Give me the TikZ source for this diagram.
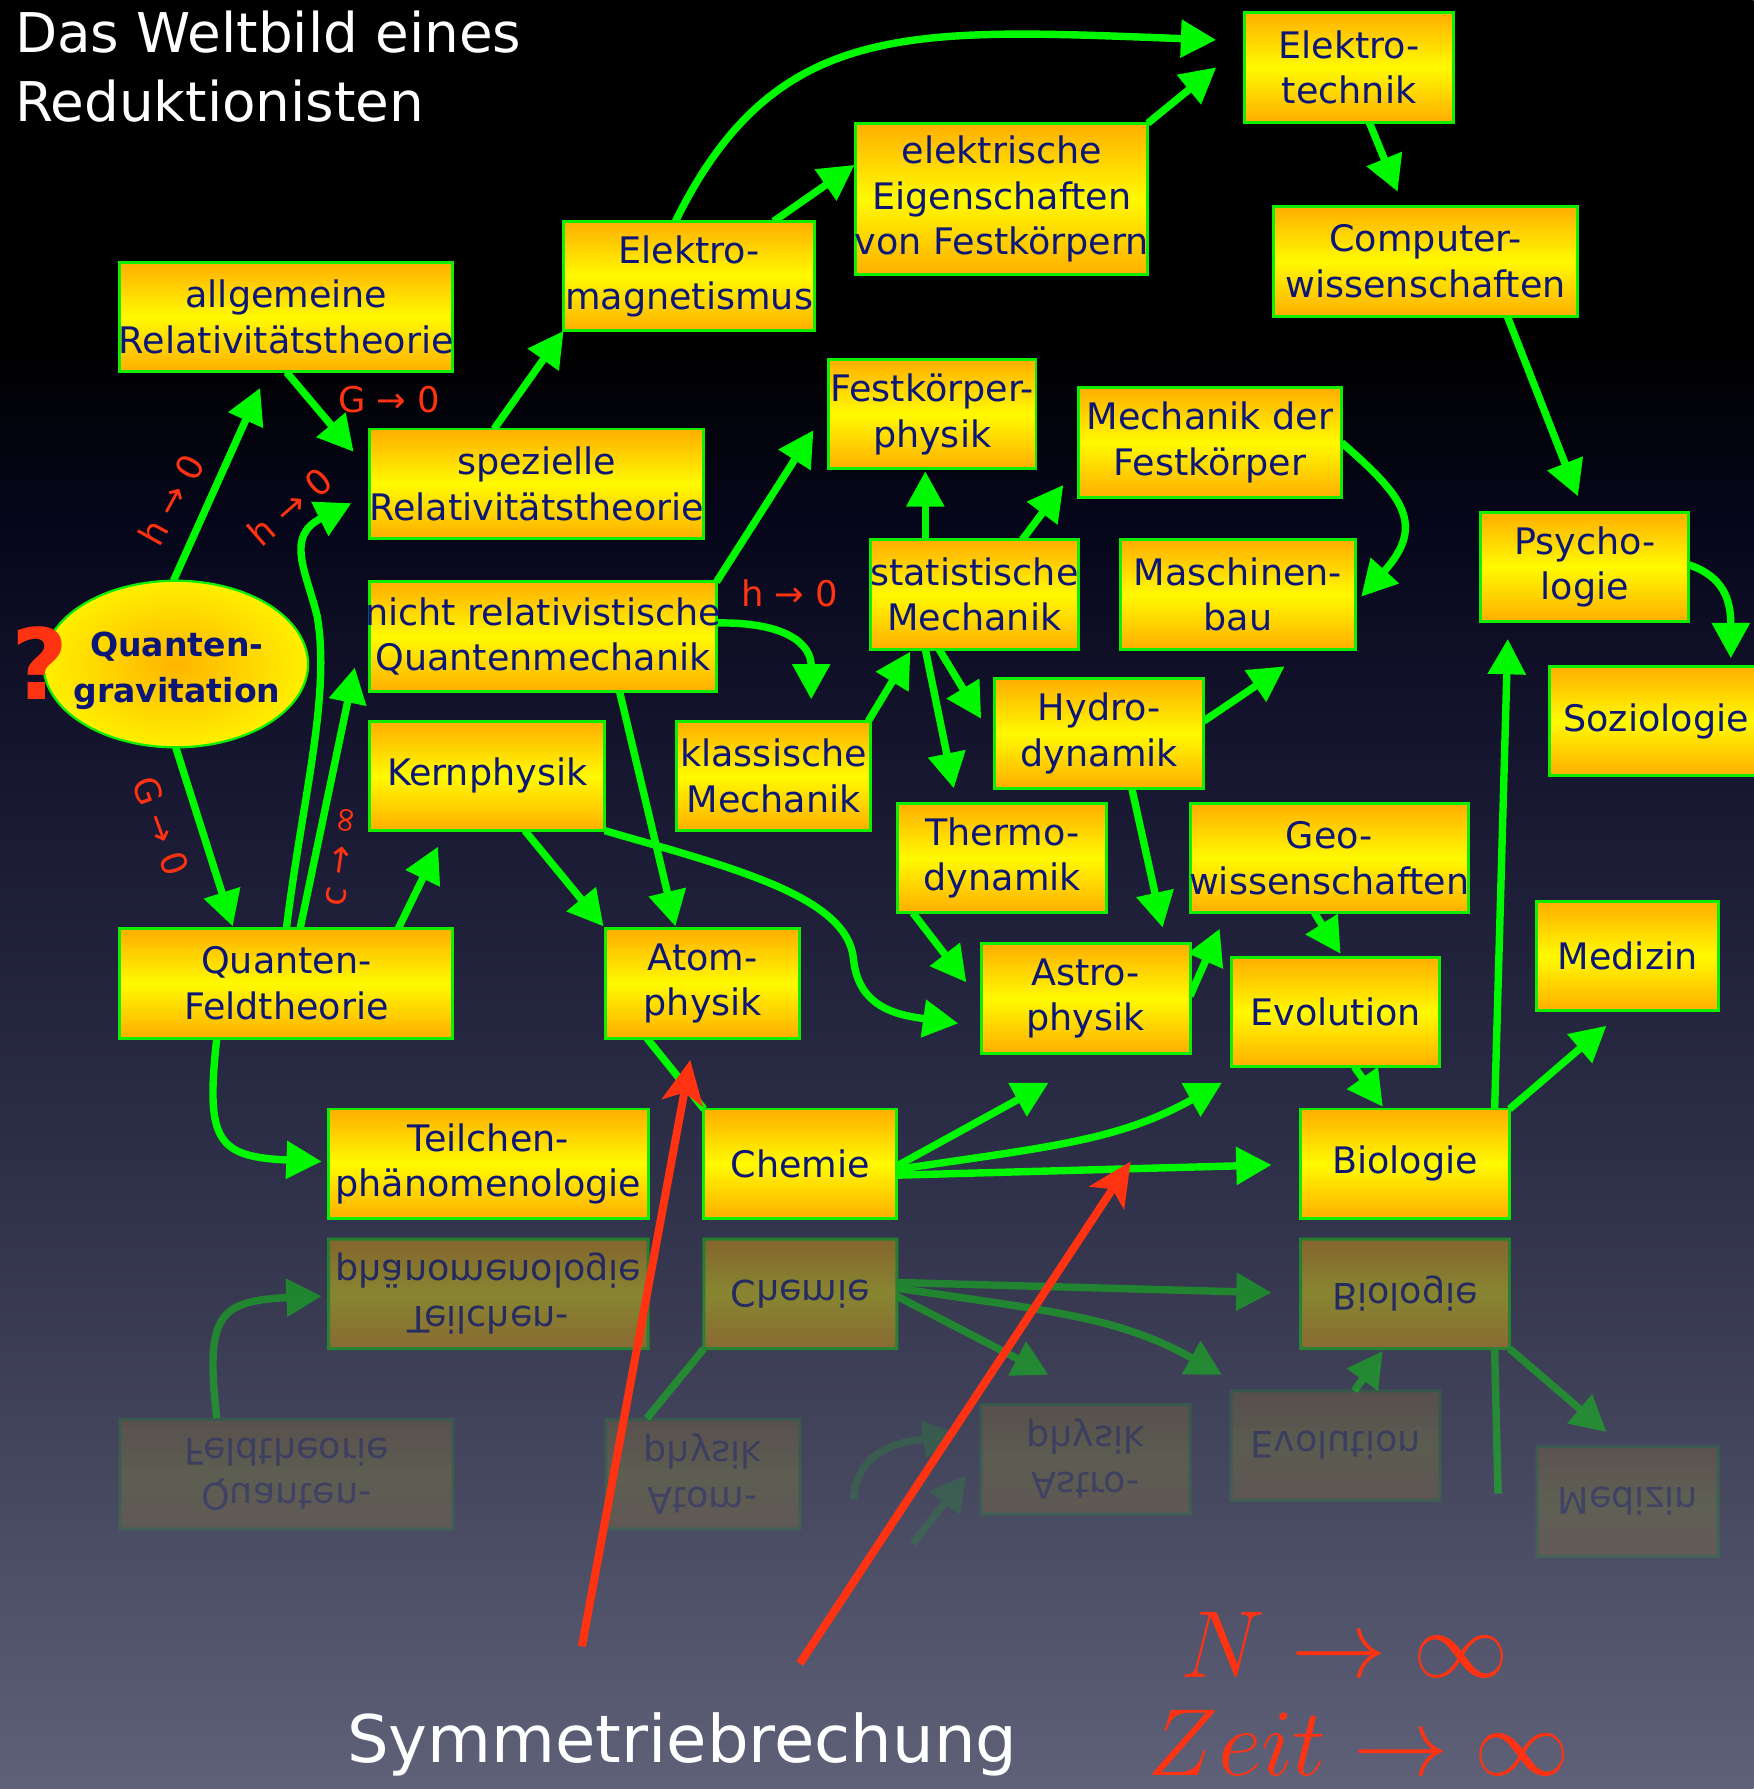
\documentclass[tikz,border=0pt]{standalone}
\usepackage{fontspec}
\setmainfont{DejaVu Sans}
\usetikzlibrary{arrows.meta,shapes.geometric}
\definecolor{gr}{HTML}{00F800}
\definecolor{grb}{HTML}{10EE00}
\definecolor{navy}{HTML}{0B1677}
\definecolor{boxor}{HTML}{FFAE00}
\definecolor{boxye}{HTML}{FFFA00}
\definecolor{ellor}{HTML}{FFB400}
\definecolor{ellye}{HTML}{FFF000}
\definecolor{rd}{HTML}{FF3311}
\definecolor{bgA}{HTML}{5F6179}
\definecolor{bgB}{HTML}{46485F}
\definecolor{bgC}{HTML}{2C2D46}
\definecolor{bgD}{HTML}{181833}
\definecolor{bgE}{HTML}{06061A}
\pgfdeclareverticalshading{bgshade}{100bp}{color(0bp)=(bgA); color(25bp)=(bgA); color(33.5bp)=(bgB); color(43.1bp)=(bgC); color(52.7bp)=(bgD); color(60.6bp)=(bgE); color(65.4bp)=(black); color(100bp)=(black)}
\pgfdeclarelayer{back}
\pgfdeclarelayer{arrows}
\pgfdeclarelayer{front}
\pgfsetlayers{back,arrows,main,front}
\newcommand\bl[1]{\makebox[0pt]{#1}}
\tikzset{
  bx/.style={draw=grb, line width=2.6pt, top color=boxor, bottom color=boxor, middle color=boxye,
    minimum height=96pt, inner sep=0pt, outer sep=0pt, align=center, text=navy,
    font=\fontsize{32}{40}\selectfont},
  ga/.style={draw=gr, line width=6.5pt, -{Triangle[length=31pt,width=32pt]}},
  gl/.style={draw=gr, line width=6.5pt},
  ra/.style={draw=rd, line width=7pt, -{Stealth[length=38pt,width=36pt,inset=9pt]}},
  lbl/.style={text=rd, font=\fontsize{31}{36}\selectfont, inner sep=0pt},
  mathlbl/.style={anchor=base west, inner sep=0pt, text=rd, font=\fontsize{24.88}{30}\selectfont, scale=3.356},
  mirror/.style={yshift=-2154pt, yscale=-1, transform shape, transparency group, opacity=#1},
}
\begin{document}
\begin{tikzpicture}[x=1pt,y=-1pt]
\useasboundingbox (0,0) rectangle (1537,1568);
\begin{pgfonlayer}{back}
\shade[shading=bgshade] (0,0) rectangle (1537,1568);
\end{pgfonlayer}

% ---------- boxes ----------
\node[bx, minimum width=183pt] (et) at (1182.5,59) {\bl{Elektro-}\\\bl{technik}};
\node[bx, minimum width=256pt, minimum height=133pt] (ee) at (878,174.5) {\bl{elektrische}\\\bl{Eigenschaften}\\\bl{von Festkörpern}};
\node[bx, minimum width=220pt] (em) at (604,242) {\bl{Elektro-}\\\bl{magnetismus}};
\node[bx, minimum width=267pt] (cw) at (1249.5,229) {\bl{Computer-}\\\bl{wissenschaften}};
\node[bx, minimum width=292pt] (art) at (251,278) {\bl{allgemeine}\\\bl{Relativitätstheorie}};
\node[bx, minimum width=182pt] (fkp) at (817,363) {\bl{Festkörper-}\\\bl{physik}};
\node[bx, minimum width=231pt] (mfk) at (1060.5,388) {\bl{Mechanik der}\\\bl{Festkörper}};
\node[bx, minimum width=293pt] (srt) at (470.5,424) {\bl{spezielle}\\\bl{Relativitätstheorie}};
\node[bx, minimum width=182pt] (psy) at (1389,497) {\bl{Psycho-}\\\bl{logie}};
\node[bx, minimum width=182pt] (stm) at (854,521) {\bl{statistische}\\\bl{Mechanik}};
\node[bx, minimum width=206pt] (mb) at (1085,521) {\bl{Maschinen-}\\\bl{bau}};
\node[bx, minimum width=304pt] (qm) at (476,558) {\bl{nicht relativistische}\\\bl{Quantenmechanik}};
\node[bx, minimum width=187pt] (soz) at (1451.5,632) {\bl{Soziologie}};
\node[bx, minimum width=206pt] (kp) at (427,680) {\bl{Kernphysik}};
\node[bx, minimum width=170pt] (km) at (678,680) {\bl{klassische}\\\bl{Mechanik}};
\node[bx, minimum width=183pt] (hd) at (963.5,643) {\bl{Hydro-}\\\bl{dynamik}};
\node[bx, minimum width=183pt] (td) at (878.5,752) {\bl{Thermo-}\\\bl{dynamik}};
\node[bx, minimum width=244pt] (geo) at (1165,752) {\bl{Geo-}\\\bl{wissenschaften}};
\node[bx, minimum width=159pt] (med) at (1426.5,838) {\bl{Medizin}};
\node[bx, minimum width=292pt] (qft) at (251,862) {\bl{Quanten-}\\\bl{Feldtheorie}};
\node[bx, minimum width=170pt] (ap) at (616,862) {\bl{Atom-}\\\bl{physik}};
\node[bx, minimum width=183pt] (asp) at (951.5,875) {\bl{Astro-}\\\bl{physik}};
\node[bx, minimum width=183pt] (evo) at (1170.5,887) {\bl{Evolution}};
\node[bx, minimum width=280pt] (tp) at (428,1020) {\bl{Teilchen-}\\\bl{phänomenologie}};
\node[bx, minimum width=169pt] (ch) at (701.5,1020) {\bl{Chemie}};
\node[bx, minimum width=183pt] (bio) at (1231.5,1020) {\bl{Biologie}};
\node[ellipse, draw=grb, line width=2pt, minimum width=232pt, minimum height=146pt, inner sep=0pt, outer sep=0pt,
  inner color=ellor, outer color=ellye] (qg) at (154,582) {};
\node[align=center, text=navy, inner sep=0pt, font=\bfseries\fontsize{29}{40}\selectfont] (qgt) at (155,588) {\bl{Quanten-}\\\bl{gravitation}};

% ---------- green connectors ----------
\begin{pgfonlayer}{arrows}
\draw[ga] ([xshift=-12pt]em.north) .. controls (680,15) and (800,25) .. ([xshift=-25pt,yshift=24pt]et.west);
\draw[ga] ([xshift=74pt]em.north) -- ([xshift=-1pt,yshift=30pt]ee.west);
\draw[ga] (ee.north east) -- ([xshift=-25pt]et.west);
\draw[ga] ([xshift=17.5pt]et.south) -- ([xshift=-24.5pt,yshift=13pt]cw.north);
\draw[ga] ([xshift=71.5pt]cw.south) -- ([xshift=-6pt,yshift=14pt]psy.north);
\draw[ga] (mfk.east) .. controls (1230,435) and (1250,460) .. ([xshift=5pt,yshift=-2pt]mb.east);
\draw[ga] ([yshift=2pt]psy.east) .. controls (1510,505) and (1517,525) .. ([xshift=65.5pt,yshift=7pt]soz.north);
\draw[ga] ([xshift=78.5pt]bio.north) -- ([xshift=-67.5pt,yshift=-15pt]psy.south);
\draw[ga] (bio.north east) -- ([xshift=61pt,yshift=-13pt]med.south west);
\draw[ga] (art.south) -- ([xshift=-14pt,yshift=28pt]srt.west);
\draw[ga] ([xshift=-2pt]qg.north) -- ([xshift=-23pt,yshift=-14pt]art.south);
\draw[ga] (qft.north) .. controls (265,700) and (290,610) .. (278,540) .. controls (268,500) and (250,470) .. ([xshift=-16pt,yshift=-17pt]srt.west);
\draw[ga] ([xshift=12pt]qft.north) -- ([xshift=-13pt,yshift=-27pt]qm.west);
\draw[ga] (qg.south) -- ([xshift=-47pt,yshift=2pt]qft.north);
\draw[ga] ([xshift=98pt]qft.north) -- ([xshift=-43pt,yshift=-14pt]kp.south);
\draw[ga] ([xshift=-61pt]qft.south) .. controls (180,1000) and (190,1014) .. ([xshift=-6pt,yshift=2pt]tp.west);
\draw[ga] ([xshift=-37.5pt]srt.north) -- (em.south west);
\draw[ga] (qm.north east) -- ([xshift=-13pt,yshift=-14pt]fkp.west);
\draw[ga] ([yshift=12pt]qm.east) .. controls (690,545) and (711,565) .. ([xshift=33pt,yshift=19pt]km.north);
\draw[ga] ([xshift=67pt]qm.south) -- ([xshift=-24pt,yshift=2pt]ap.north);
\draw[ga] ([xshift=33pt]kp.south) -- ([xshift=-87pt,yshift=2pt]ap.north);
\draw[ga] (kp.south east) .. controls (640,760) and (742,785) .. (748,840) .. controls (752,885) and (790,890) .. ([xshift=-20pt,yshift=-22pt]asp.west);
\draw[gl] ([xshift=-49pt]ap.south) -- (ch.north west);
\draw[ga] ([xshift=-2pt]km.north east) -- ([xshift=-56pt,yshift=-2pt]stm.south);
\draw[ga] ([xshift=-43pt]stm.north) -- ([xshift=-6pt,yshift=-2pt]fkp.south);
\draw[ga] ([xshift=42pt]stm.north) -- ([xshift=-13pt,yshift=11pt]mfk.south west);
\draw[ga] ([xshift=-43pt]stm.south) -- ([xshift=-42.5pt,yshift=13pt]td.north);
\draw[ga] ([xshift=-31pt]stm.south) -- ([xshift=-12pt,yshift=13pt]hd.west);
\draw[ga] ([yshift=11pt]hd.east) -- ([xshift=41pt,yshift=-15pt]mb.south);
\draw[ga] ([xshift=28.5pt]hd.south) -- ([xshift=67.5pt,yshift=14pt]asp.north);
\draw[ga] ([xshift=-78.5pt]td.south) -- ([xshift=-13pt,yshift=14pt]asp.west);
\draw[ga] ([yshift=2pt]asp.east) -- ([xshift=-96pt,yshift=-14pt]geo.south);
\draw[ga] ([xshift=-13pt]geo.south) -- ([xshift=4.5pt,yshift=3pt]evo.north);
\draw[ga] ([xshift=16.5pt]evo.south) -- ([xshift=-19.5pt,yshift=2pt]bio.north);
\draw[ga] ([yshift=-2pt]ch.east) -- ([xshift=-32.5pt,yshift=-26pt]asp.south);
\draw[ga] ([yshift=-5pt]ch.east) .. controls (920,1005) and (980,1000) .. ([xshift=-99.5pt,yshift=-14pt]evo.south);
\draw[ga] ([yshift=-10pt]ch.east) -- ([xshift=-25.5pt,yshift=-1pt]bio.west);
\end{pgfonlayer}

% ---------- reflection ----------
\begin{pgfonlayer}{back}
\begin{scope}[mirror=0.13]
\node[bx, minimum width=292pt] (rqft) at (251,862) {\bl{Quanten-}\\\bl{Feldtheorie}};
\node[bx, minimum width=170pt] (rap) at (616,862) {\bl{Atom-}\\\bl{physik}};
\node[bx, minimum width=183pt] (rasp) at (951.5,875) {\bl{Astro-}\\\bl{physik}};
\node[bx, minimum width=183pt] (revo) at (1170.5,887) {\bl{Evolution}};
\node[bx, minimum width=159pt] (rmed) at (1426.5,838) {\bl{Medizin}};
\coordinate (rk1) at (748,840);
\coordinate (rk2) at (840,897);
\draw[ga] (rk1) .. controls (752,885) and (790,890) .. (rk2);
\coordinate (rt1) at (800,801);
\coordinate (rt2) at (847,861);
\draw[ga] (rt1) -- (rt2);
\end{scope}
\begin{scope}[mirror=0.4]
\node[bx, minimum width=280pt] (rtp) at (428,1020) {\bl{Teilchen-}\\\bl{phänomenologie}};
\node[bx, minimum width=169pt] (rch) at (701.5,1020) {\bl{Chemie}};
\node[bx, minimum width=183pt] (rbio) at (1231.5,1020) {\bl{Biologie}};
\coordinate (rc0) at (786,1018);
\coordinate (rc1) at (919,949);
\coordinate (rc4) at (786,1025);
\coordinate (rc2) at (1071,949);
\coordinate (rc5) at (786,1030);
\coordinate (rc3) at (1114.5,1021);
\coordinate (rq1) at (190,911);
\coordinate (rq2) at (282,1018);
\coordinate (ra1) at (567,911);
\coordinate (re1) at (1187,935);
\coordinate (re2) at (1212,970);
\coordinate (rb1) at (1310,971);
\coordinate (rb2) at (1313,845);
\coordinate (rm1) at (1408,899);
\draw[ga] (rc0) -- (rc1);
\draw[ga] (rc4) .. controls (920,1005) and (980,1000) .. (rc2);
\draw[ga] (rc5) -- (rc3);
\draw[ga] (rq1) .. controls (180,1000) and (190,1014) .. (rq2);
\draw[gl] (ra1) -- (rch.north west);
\draw[ga] (re1) -- (re2);
\draw[gl] (rb1) -- (rb2);
\draw[ga] (rbio.north east) -- (rm1);
\end{scope}
\end{pgfonlayer}

% ---------- labels, red arrows, texts ----------
\begin{pgfonlayer}{front}
\node[lbl] (l1) at (341,350) {G → 0};
\node[lbl, rotate=61] (l2) at (150,438) {h → 0};
\node[lbl, rotate=41] (l3) at (254,444) {h → 0};
\node[lbl, rotate=-70] (l4) at (141,724) {G → 0};
\node[lbl, rotate=82] (l5) at (300,750) {c → ∞};
\node[lbl] (l6) at (692,520) {h → 0};
\node[text=rd, font=\bfseries\fontsize{86}{90}\selectfont, inner sep=0pt] (qmark) at (35,581) {?};
\coordinate (rs1) at (510,1443);
\coordinate (rs2) at (701,1458);
\draw[ra] (rs1) -- ([xshift=-11pt,yshift=-19pt]ap.south);
\draw[ra] (rs2) -- ([xshift=-149pt,yshift=2pt]bio.west);
\node[anchor=base west, inner sep=0pt, text=white, font=\fontsize{48}{60}\selectfont] (t1) at (13,46) {Das Weltbild eines};
\node[anchor=base west, inner sep=0pt, text=white, font=\fontsize{48}{60}\selectfont] (t2) at (13,106.6) {Reduktionisten};
\node[anchor=base, inner sep=0pt, text=white, font=\fontsize{57.5}{60}\selectfont] (sym) at (598,1545) {Symmetriebrechung};
\node[mathlbl] (nl) at (1034,1470) {$N\rightarrow\infty$};
\node[mathlbl] (zl) at (1005,1556) {$Zeit\rightarrow\infty$};
\end{pgfonlayer}
\end{tikzpicture}
\end{document}
